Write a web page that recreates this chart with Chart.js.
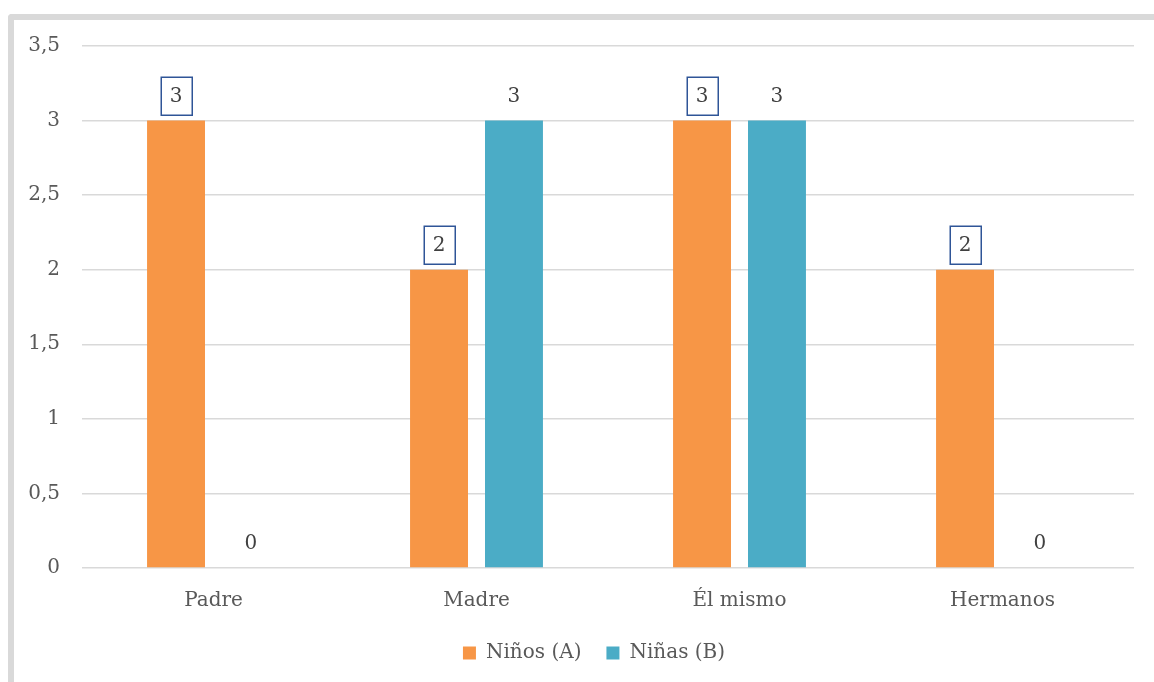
<!DOCTYPE html>
<html><head><meta charset="utf-8">
<script src="https://cdn.jsdelivr.net/npm/chart.js@4"></script>
<style>
html,body{margin:0;padding:0;background:#fff;overflow:hidden}
#frame{position:absolute;left:8px;top:14px;right:0;bottom:0;border-left:6px solid #d9d9d9;border-top:6px solid #d9d9d9;border-top-left-radius:4px}
#wrap{position:absolute;left:0;top:0;width:1154px;height:682px}
</style></head><body>
<div id="frame"></div>
<div id="wrap"><canvas id="c"></canvas></div>
<script>
// Who helps with the task, by group
const categories = ['Padre', 'Madre', 'Él mismo', 'Hermanos'];
const ninos = [3, 2, 3, 2];
const ninas = [0, 3, 3, 0];
const seriesNames = ['Niños (A)', 'Niñas (B)'];
const seriesColors = ['#F79646', '#4BACC6'];

const FONT = 'DejaVu Serif';
const TEXT = '#595959';
const SIZE = 20;

// Value labels above each bar; the first series gets a framed label
const valueLabels = {
  id: 'valueLabels',
  afterDatasetsDraw(chart) {
    const ctx = chart.ctx;
    ctx.save();
    ctx.font = SIZE + 'px "' + FONT + '"';
    ctx.textAlign = 'center';
    ctx.textBaseline = 'middle';
    chart.data.datasets.forEach((ds, di) => {
      const meta = chart.getDatasetMeta(di);
      meta.data.forEach((bar, i) => {
        const v = ds.data[i];
        const cx = bar.x;
        const cy = bar.y - 25;
        if (di === 0) {
          ctx.strokeStyle = '#2F5597';
          ctx.lineWidth = 1.5;
          ctx.strokeRect(Math.round(cx - 15.5) + 0.25, Math.round(cy - 19) + 0.25, 31, 38);
        }
        ctx.fillStyle = '#404040';
        ctx.fillText(String(v).replace('.', ','), cx, cy + 1);
      });
    });
    ctx.restore();
  }
};

// Nudge the legend block a little to the right of the canvas centre
const legendShift = {
  id: 'legendShift',
  afterLayout(chart) {
    const lg = chart.legend;
    if (lg) { lg.left += 27; lg.right += 27; }
  }
};

new Chart(document.getElementById('c'), {
  type: 'bar',
  data: {
    labels: categories,
    datasets: [
      { label: seriesNames[0], data: ninos, backgroundColor: seriesColors[0], categoryPercentage: 0.57, barPercentage: 0.773 },
      { label: seriesNames[1], data: ninas, backgroundColor: seriesColors[1], categoryPercentage: 0.57, barPercentage: 0.773 }
    ]
  },
  options: {
    responsive: true,
    maintainAspectRatio: false,
    animation: false,
    layout: { padding: { top: 46, right: 20, bottom: 9, left: 0 } },
    plugins: {
      tooltip: { enabled: false },
      legend: {
        position: 'bottom',
        labels: { boxWidth: 13, boxHeight: 13, padding: 25, color: TEXT, font: { family: FONT, size: SIZE } }
      }
    },
    scales: {
      x: {
        grid: { display: false },
        border: { display: false },
        ticks: { color: TEXT, font: { family: FONT, size: SIZE }, padding: 13 },
        afterFit(s) { s.height = 50; }
      },
      y: {
        min: 0, max: 3.5,
        ticks: { stepSize: 0.5, color: TEXT, font: { family: FONT, size: SIZE }, padding: 22,
          callback: v => String(v).replace('.', ',') },
        grid: { color: '#d9d9d9', drawTicks: false, lineWidth: 1.5 },
        border: { display: false },
        afterFit(s) { s.width = 82; }
      }
    }
  },
  plugins: [valueLabels, legendShift]
});
</script>
</body></html>
